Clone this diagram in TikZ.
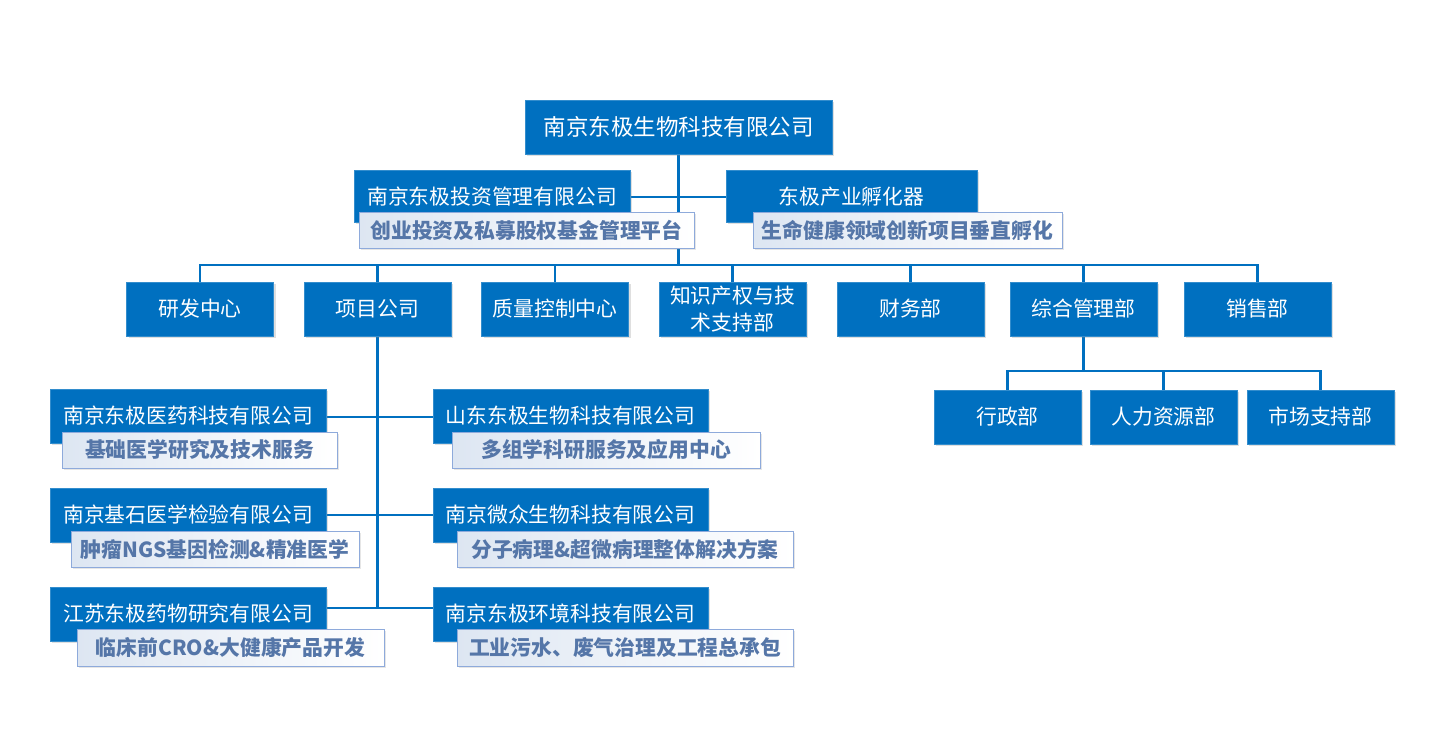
\documentclass[tikz,border=0pt]{standalone}
\usepackage{fontspec}
\setmainfont{Noto Sans CJK SC}
\usetikzlibrary{shadows,backgrounds}
\definecolor{boxblue}{HTML}{0070C0}
\definecolor{subtext}{HTML}{5576A8}
\definecolor{subborder}{HTML}{8EAADB}
\definecolor{subshade}{HTML}{DDE6F2}
\tikzset{
  bluebox/.style={draw=boxblue!80!white, line width=0.8pt, fill=boxblue, text=white,
    font=\fontsize{20.8}{27}\selectfont, inner sep=0pt, align=center,
    drop shadow={shadow xshift=2pt, shadow yshift=-2pt, opacity=0.25, fill=gray}},
  subbox/.style={draw=subborder, line width=1pt, left color=subshade, right color=white,
    text=subtext, font=\fontsize{20.8}{25}\selectfont\bfseries, inner sep=0pt,
    minimum height=36pt,
    drop shadow={shadow xshift=2pt, shadow yshift=-2pt, opacity=0.2, fill=gray}},
  conn/.style={draw=boxblue, line width=2.4pt},
}
\begin{document}
\begin{tikzpicture}[x=1pt,y=-1pt]
\useasboundingbox (0,0) rectangle (1441,753);
% top
\node[bluebox, minimum width=307pt, minimum height=54pt, font=\fontsize{22.5}{27}\selectfont] (top) at (678.5,127) {南京东极生物科技有限公司};
% investment & incubator
\node[bluebox, minimum width=276pt, minimum height=52pt] (inv) at (492,196) {};
\node[bluebox, minimum width=251pt, minimum height=52pt] (inc) at (851.5,196) {};
% row
\node[bluebox, minimum width=147pt, minimum height=54pt] (rd) at (200,309) {研发中心};
\node[bluebox, minimum width=147pt, minimum height=54pt] (pc) at (377.5,309) {项目公司};
\node[bluebox, minimum width=147pt, minimum height=54pt] (qc) at (555,309) {质量控制中心};
\node[bluebox, minimum width=147pt, minimum height=54pt] (ip) at (732.5,309) {知识产权与技\\术支持部};
\node[bluebox, minimum width=147pt, minimum height=54pt] (fin) at (910.5,309) {财务部};
\node[bluebox, minimum width=147pt, minimum height=54pt] (gm) at (1083.5,309) {综合管理部};
\node[bluebox, minimum width=147pt, minimum height=54pt] (sal) at (1257.5,309) {销售部};
% bottom row
\node[bluebox, minimum width=147pt, minimum height=54pt] (adm) at (1007.5,417) {行政部};
\node[bluebox, minimum width=147pt, minimum height=54pt] (hr) at (1163.5,417) {人力资源部};
\node[bluebox, minimum width=147pt, minimum height=54pt] (mkt) at (1320.5,417) {市场支持部};
% companies
\node[bluebox, minimum width=276pt, minimum height=54pt] (l1) at (188,416) {};
\node[bluebox, minimum width=276pt, minimum height=54pt] (l2) at (188,515) {};
\node[bluebox, minimum width=276pt, minimum height=54pt] (l3) at (188,614) {};
\node[bluebox, minimum width=275pt, minimum height=54pt] (r1) at (570.5,416) {};
\node[bluebox, minimum width=275pt, minimum height=54pt] (r2) at (570.5,515) {};
\node[bluebox, minimum width=275pt, minimum height=54pt] (r3) at (570.5,614) {};
% texts of the blue company boxes
\node[text=white, font=\fontsize{20.8}{25}\selectfont, inner sep=0pt] (invt) at (492,197) {南京东极投资管理有限公司};
\node[text=white, font=\fontsize{20.8}{25}\selectfont, inner sep=0pt] (inct) at (851.5,197) {东极产业孵化器};
\node[text=white, font=\fontsize{20.8}{25}\selectfont, inner sep=0pt] (l1t) at (188,416) {南京东极医药科技有限公司};
\node[text=white, font=\fontsize{20.8}{25}\selectfont, inner sep=0pt] (l2t) at (188,515) {南京基石医学检验有限公司};
\node[text=white, font=\fontsize{20.8}{25}\selectfont, inner sep=0pt] (l3t) at (188,614) {江苏东极药物研究有限公司};
\node[text=white, font=\fontsize{20.8}{25}\selectfont, inner sep=0pt] (r1t) at (570.5,416) {山东东极生物科技有限公司};
\node[text=white, font=\fontsize{20.8}{25}\selectfont, inner sep=0pt] (r2t) at (570.5,515) {南京微众生物科技有限公司};
\node[text=white, font=\fontsize{20.8}{25}\selectfont, inner sep=0pt] (r3t) at (570.5,614) {南京东极环境科技有限公司};
% subtitle boxes
\node[subbox, minimum width=335pt] (invs) at (526.5,230) {创业投资及私募股权基金管理平台};
\node[subbox, minimum width=309pt] (incs) at (907.5,230) {生命健康领域创新项目垂直孵化};
\node[subbox, minimum width=275pt] (l1s) at (199.5,450) {基础医学研究及技术服务};
\node[subbox, minimum width=288pt] (l2s) at (215,549) {肿瘤NGS基因检测\&精准医学};
\node[subbox, minimum width=307pt, minimum height=37pt] (l3s) at (230.5,647.5) {临床前CRO\&大健康产品开发};
\node[subbox, minimum width=308pt] (r1s) at (606,450) {多组学科研服务及应用中心};
\node[subbox, minimum width=336pt] (r2s) at (625,549) {分子病理\&超微病理整体解决方案};
\node[subbox, minimum width=336pt, minimum height=37pt] (r3s) at (625,647.5) {工业污水、废气治理及工程总承包};
% connectors
\coordinate (bus) at (678.5,265);
\coordinate (sbus) at (1083.5,371);
\begin{scope}[on background layer]
\draw[conn] (top.south) -- (bus);
\draw[conn] (inv.east |- invt) -- (inc.west |- inct);
\draw[conn] (rd.north) |- (bus) -| (sal.north);
\foreach \n in {pc,qc,ip,fin,gm} \draw[conn] (\n.north) -- (\n.north |- bus);
\draw[conn] (gm.south) -- (sbus);
\draw[conn] (adm.north) |- (sbus) -| (mkt.north);
\draw[conn] (hr.north) -- (hr.north |- sbus);
\draw[conn] (pc.south) -- (pc.south |- 0,608);
\draw[conn] (l1.east |- 0,417) -- (r1.west |- 0,417);
\draw[conn] (l2.east) -- (r2.west);
\draw[conn] (l3.east |- 0,608) -- (r3.west |- 0,608);
\end{scope}
\end{tikzpicture}
\end{document}
